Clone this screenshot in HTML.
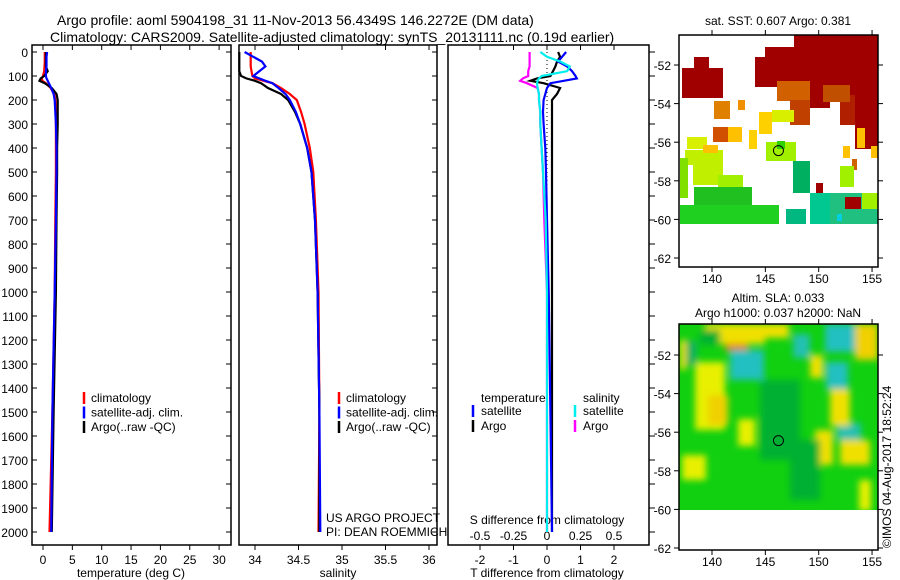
<!DOCTYPE html>
<html><head><meta charset="utf-8"><style>
body{margin:0;background:#fff}
svg{display:block;font-family:"Liberation Sans",sans-serif}
</style></head><body>
<svg id="fig" width="900" height="580" viewBox="0 0 900 580">
<defs><filter id="blur" x="-20%" y="-20%" width="140%" height="140%"><feGaussianBlur stdDeviation="3.5"/></filter>
<clipPath id="slaclip"><rect x="679" y="324" width="199" height="186"/></clipPath></defs>
<text x="57" y="25" font-size="14">Argo profile: aoml 5904198_31 11-Nov-2013 56.4349S 146.2272E (DM data)</text>
<text x="50" y="42" font-size="14">Climatology: CARS2009. Satellite-adjusted climatology: synTS_20131111.nc (0.19d earlier)</text>
<g id="plots"></g>
</svg>
<script>
const depths=[0,20,40,60,80,100,110,120,130,150,175,200,250,300,400,500,700,1000,1500,2000];
const tClim=[0.3,0.3,0.3,0.25,0.2,0.0,-0.2,-0.1,0.5,1.3,1.9,2.1,2.2,2.2,2.2,2.2,2.1,2.0,1.6,1.1];
const tSat=[0.7,0.6,0.6,0.6,0.5,0.5,0.6,0.8,1.0,1.4,1.8,2.0,2.1,2.2,2.3,2.3,2.2,2.0,1.6,1.4];
const tArgo=[0.5,0.5,0.5,0.5,0.8,0.2,-0.4,-0.6,0.3,1.5,2.3,2.5,2.5,2.5,2.4,2.4,2.3,2.2,1.8,1.5];
const sClim=[33.95,33.95,33.95,33.95,33.96,33.97,34.0,34.1,34.2,34.3,34.4,34.48,34.53,34.57,34.63,34.67,34.7,34.73,34.74,34.73];
const sSat=[33.88,33.98,34.08,34.12,34.05,33.98,34.05,34.12,34.2,34.27,34.35,34.4,34.47,34.52,34.6,34.65,34.69,34.72,34.74,34.75];
const sArgo=[33.82,33.82,33.82,33.82,33.82,33.84,33.9,34.0,34.07,34.15,34.3,34.38,34.46,34.52,34.6,34.65,34.69,34.72,34.74,34.74];
const dTSat=[0.57,0.45,0.33,0.6,0.75,0.85,0.89,0.5,0.1,0.0,-0.05,-0.1,-0.12,-0.1,-0.05,-0.03,0.0,0.05,0.1,0.15];
const dTArgo=[0.33,0.39,0.3,0.25,0.18,0.1,-0.3,-0.5,-0.1,0.39,0.3,0.15,0.15,0.15,0.15,0.15,0.15,0.15,0.15,0.15];
const dSSat=[-0.05,0.0,0.1,0.17,0.15,-0.04,-0.06,-0.07,-0.075,-0.07,-0.06,-0.06,-0.05,-0.05,-0.04,-0.03,-0.01,0.0,0.0,0.0];
const dSArgo=[-0.13,-0.13,-0.13,-0.13,-0.14,-0.14,-0.18,-0.2,-0.15,-0.07,-0.06,-0.06,-0.05,-0.05,-0.04,-0.03,-0.02,0.0,0.0,0.0];
const depthTicks=[0,100,200,300,400,500,600,700,800,900,1000,1100,1200,1300,1400,1500,1600,1700,1800,1900,2000];
const tTicks=[0,5,10,15,20,25,30];
const sTicks=[34,34.5,35,35.5,36];
const dTTicks=[-2,-1,0,1,2];
const dSTicks=[-0.5,-0.25,0,0.25,0.5];
const latTicks=[-52,-54,-56,-58,-60,-62];
const lonTicks=[140,145,150,155];
const argoLon=146.2272, argoLat=-56.4349;

const NS='http://www.w3.org/2000/svg';
const root=document.getElementById('plots');
function mk(tag,at,parent){const e=document.createElementNS(NS,tag);for(const k in at)e.setAttribute(k,at[k]);(parent||root).appendChild(e);return e;}
function txt(x,y,s,size,anchor,parent){const t=mk('text',{x:x,y:y,'font-size':size||12,'text-anchor':anchor||'start'},parent);t.textContent=s;return t;}
const yD=d=>52+d*0.24;
const xT=v=>43+v*5.87;
const xS=v=>255+(v-34)*87;
const xDT=v=>547+v*33.5;
const xDS=v=>547+v*134;

function box(x,y,w,h,name){const r=mk('rect',{x:x,y:y,width:w,height:h,fill:'none',stroke:'#000','stroke-width':1.5});

}
function line(xs,color,name,fx){const pts=xs.map((v,i)=>fx(v).toFixed(1)+','+yD(depths[i]).toFixed(1)).join(' ');
const p=mk('polyline',{points:pts,fill:'none',stroke:color,'stroke-width':2.2});

}

box(32,45,199,500,'temperature-panel');
box(239,45,198,500,'salinity-panel');
box(448,45,201,500,'difference-panel');
depthTicks.forEach(d=>{
 const t=txt(28,yD(d)+5,String(d),12,'end');
 
 
 mk('line',{x1:32,x2:37,y1:yD(d),y2:yD(d),stroke:'#000'});
 mk('line',{x1:226,x2:231,y1:yD(d),y2:yD(d),stroke:'#000'});
 mk('line',{x1:432,x2:437,y1:yD(d),y2:yD(d),stroke:'#000'});
 mk('line',{x1:649,x2:655,y1:yD(d),y2:yD(d),stroke:'#000'});
});
tTicks.forEach(v=>{mk('line',{x1:xT(v),x2:xT(v),y1:45,y2:50,stroke:'#000'});mk('line',{x1:xT(v),x2:xT(v),y1:545,y2:550,stroke:'#000'});
 const t=txt(xT(v),564,String(v),12,'middle');});
sTicks.forEach(v=>{mk('line',{x1:xS(v),x2:xS(v),y1:45,y2:50,stroke:'#000'});mk('line',{x1:xS(v),x2:xS(v),y1:545,y2:550,stroke:'#000'});
 const t=txt(xS(v),564,String(v),12,'middle');});
dTTicks.forEach(v=>{mk('line',{x1:xDT(v),x2:xDT(v),y1:45,y2:50,stroke:'#000'});mk('line',{x1:xDT(v),x2:xDT(v),y1:545,y2:550,stroke:'#000'});
 const t=txt(xDT(v),564,String(v),12,'middle');});
dSTicks.forEach(v=>{const t=txt(xDS(v),540,String(v),12,'middle');});
[['temperature (deg C)',131],['salinity',338],['T difference from climatology',547]].forEach(a=>{const t=txt(a[1],577,a[0],12,'middle');});
{const t=txt(547,524,'S difference from climatology',12,'middle');}

line(tClim,'#f00','temp-climatology-line',xT);
line(tArgo,'#000','temp-argo-line',xT);
line(tSat,'#00f','temp-satellite-line',xT);
line(sClim,'#f00','sal-climatology-line',xS);
line(sArgo,'#000','sal-argo-line',xS);
line(sSat,'#00f','sal-satellite-line',xS);
mk('line',{x1:547,x2:547,y1:52,y2:532,stroke:'#000','stroke-dasharray':'1,3'});
line(dSArgo,'#f0f','s-diff-argo-line',xDS);
line(dTArgo,'#000','t-diff-argo-line',xDT);
line(dTSat,'#00f','t-diff-satellite-line',xDT);
line(dSSat,'#0ee','s-diff-satellite-line',xDS);

function legend(x,items){items.forEach((it,i)=>{const y=398+i*14.5;mk('line',{x1:x,x2:x,y1:y-6,y2:y+6,stroke:it[1],'stroke-width':2.5});
 const t=txt(x+7,y+4,it[0],12);});}
const L=[['climatology','#f00'],['satellite-adj. clim.','#00f'],['Argo(..raw -QC)','#000']];
legend(84,L);legend(339,L);
{let t=txt(481,402,'temperature',12);
 t=txt(583,402,'salinity',12);}
[[473,411,'#00f','satellite'],[473,426,'#000','Argo'],[575,411,'#0ee','satellite'],[575,426,'#f0f','Argo']].forEach(a=>{
 mk('line',{x1:a[0],x2:a[0],y1:a[1]-6,y2:a[1]+6,stroke:a[2],'stroke-width':2.5});
 const t=txt(a[0]+8,a[1]+4,a[3],12);});
{let t=txt(326,522,'US ARGO PROJECT',12);
 t=txt(326,536,'PI: DEAN ROEMMICH',12);}

// maps
const mx=lon=>712+(lon-140)*10.67;
function mapAxes(top,bottom,lat0y,name){
 box(679,top,199,bottom-top,name);
 latTicks.forEach(l=>{const y=lat0y+(-52-l)*19.3;mk('line',{x1:679,x2:674,y1:y,y2:y,stroke:'#000'});mk('line',{x1:878,x2:883,y1:y,y2:y,stroke:'#000'});
  const t=txt(671,y+5,String(l),12,'end');});
 lonTicks.forEach(l=>{mk('line',{x1:mx(l),x2:mx(l),y1:top,y2:top-5,stroke:'#000'});mk('line',{x1:mx(l),x2:mx(l),y1:bottom,y2:bottom+5,stroke:'#000'});
  const t=txt(mx(l),bottom+16,String(l),12,'middle');});
}
const sst=[[682,68,41,30,'#a00000'],[694,57,15,11,'#a00000'],[755,57,61,30,'#a00000'],[765,47,30,12,'#a00000'],[794,35,84,60,'#a00000'],[810,85,20,23,'#a00000'],[855,95,23,54,'#a00000'],[840,95,15,30,'#b02000'],
[777,81,33,20,'#d06000'],[790,100,20,25,'#c04000'],[823,85,27,17,'#c05000'],[714,101,16,18,'#e08000'],[738,100,7,10,'#f09000'],[713,127,15,15,'#d05000'],[728,127,14,15,'#ffc000'],
[759,112,13,22,'#ffd000'],[772,110,22,12,'#d8f000'],[749,130,8,19,'#ffd000'],[766,142,30,19,'#a0f000'],[777,141,8,8,'#30d000'],[687,137,20,12,'#d8f000'],[685,150,38,15,'#c0f000'],[703,145,15,8,'#ffc000'],
[857,128,8,20,'#ffc000'],[843,146,7,12,'#ffc000'],[871,146,7,12,'#ffc000'],[852,159,5,11,'#d06000'],[793,161,17,32,'#00b060'],[680,158,8,40,'#80e000'],[693,160,30,25,'#c0f000'],[718,175,25,20,'#a0f000'],
[694,187,58,18,'#20c020'],[680,205,99,19,'#20d020'],[786,209,20,15,'#00b880'],[810,193,23,31,'#00c890'],[830,193,48,31,'#20c080'],[845,197,16,12,'#a00000'],[862,193,16,16,'#a0f000'],
[816,183,7,10,'#a00000'],[840,166,14,21,'#a0f000'],[837,214,5,7,'#00d0e0']];
{const g=mk('g',{});
 sst.forEach(p=>mk('rect',{x:p[0],y:p[1],width:p[2],height:p[3],fill:p[4]},g));}
mapAxes(35,267,65,'sst-map-frame');
{const c=mk('circle',{cx:mx(argoLon),cy:65+(-52-argoLat)*19.3,r:5,fill:'none',stroke:'#000'});}
{const t=txt(778,25,'sat. SST: 0.607 Argo: 0.381',12,'middle');}

const sla=[[695,362,30,68,'#e8f000'],[725,327,23,24,'#e08000'],[705,324,60,20,'#f0e000'],[769,327,10,7,'#e09000'],[762,324,27,14,'#f0e000'],[861,327,17,28,'#e08000'],[855,324,23,36,'#f0d000'],
[735,355,24,20,'#2090e0'],[730,350,34,30,'#20c0c0'],[830,327,20,21,'#2090e0'],[825,324,30,28,'#20c0c0'],[830,368,14,17,'#2090e0'],[826,362,22,28,'#20c0c0'],[793,334,17,24,'#20c0b0'],[685,341,12,24,'#10b060'],
[837,423,24,17,'#20c0b0'],[847,446,17,14,'#e08000'],[840,440,30,25,'#f0e000'],[820,440,13,23,'#e09000'],[815,430,18,35,'#f0e000'],[810,355,13,23,'#f0e000'],[830,389,20,37,'#f0e000'],[738,419,17,27,'#e8f000'],
[682,455,24,25,'#e8f000'],[859,480,12,31,'#e8f000'],[708,395,20,30,'#f0d000'],[760,380,40,80,'#00b030'],[790,440,30,60,'#00b030'],[700,330,20,15,'#00b030'],[680,340,6,30,'#f0e000']];
{const g=mk('g',{'clip-path':'url(#slaclip)'});
 mk('rect',{x:679,y:324,width:199,height:186,fill:'#10d010'},g);
 const b=mk('g',{filter:'url(#blur)'},g);
 sla.forEach(p=>mk('rect',{x:p[0],y:p[1],width:p[2],height:p[3],fill:p[4]},b));}
mapAxes(324,550,355,'sla-map-frame');
{const c=mk('circle',{cx:mx(argoLon),cy:355+(-52-argoLat)*19.3,r:5,fill:'none',stroke:'#000'});}
{let t=txt(778,302,'Altim. SLA: 0.033',12,'middle');
 t=txt(778,317,'Argo h1000: 0.037 h2000: NaN',12,'middle');
 t=mk('text',{x:0,y:0,'font-size':12,transform:'translate(891,548) rotate(-90)'});t.textContent='©IMOS 04-Aug-2017 18:52:24';}
</script>
</body></html>
